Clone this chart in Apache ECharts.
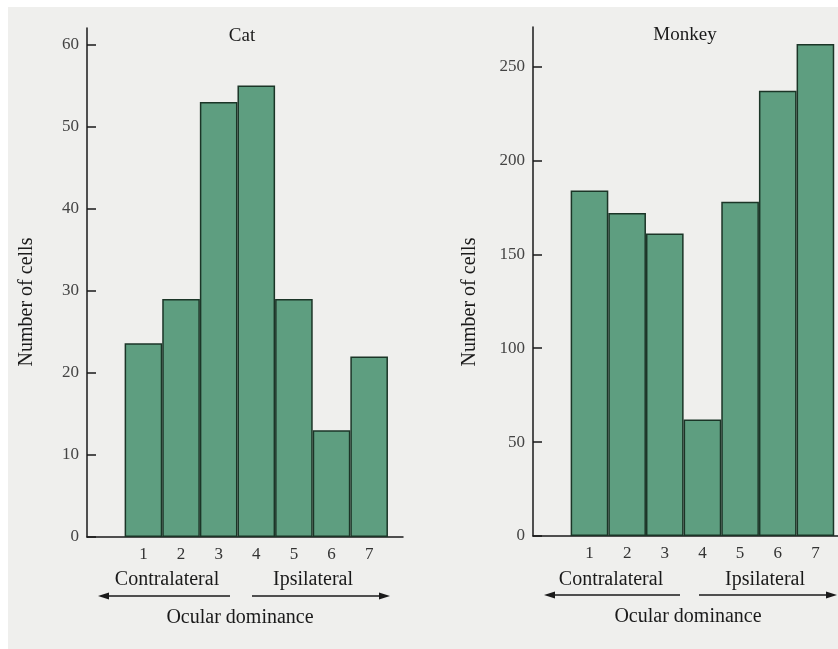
<!DOCTYPE html>
<html>
<head>
<meta charset="utf-8">
<script src="https://cdn.jsdelivr.net/npm/echarts@6/dist/echarts.min.js"></script>
<style>html,body{margin:0;padding:0;background:#fff}#c{width:838px;height:649px}</style>
</head>
<body>
<div id="c"></div>
<script>
const categories = [1, 2, 3, 4, 5, 6, 7];
const catValues = [23.6, 29, 53, 55, 29, 13, 22];
const monkeyValues = [184, 172, 161, 62, 178, 237, 262];
const catTicks = [0, 10, 20, 30, 40, 50, 60];
const monkeyTicks = [0, 50, 100, 150, 200, 250];

const FONT = '"Liberation Serif", "DejaVu Serif", serif';
const BAR = '#5e9e80';
const EDGE = '#1b3527';
const INK = '#1a1a1a';

const chart = echarts.init(document.getElementById('c'));

function xAxis(gridIndex, max) {
  return {
    type: 'value', gridIndex, min: -0.5, max,
    splitLine: {show: false},
    axisTick: {show: false},
    axisLine: {onZero: false, lineStyle: {color: INK, width: 1.5}},
    axisLabel: {customValues: categories, margin: 9, fontFamily: FONT, fontSize: 17, color: '#333'}
  };
}
function yAxis(gridIndex, max, ticks) {
  return {
    type: 'value', gridIndex, min: 0, max,
    splitLine: {show: false},
    axisLine: {show: true, onZero: false, lineStyle: {color: INK, width: 1.5}},
    axisTick: {show: true, inside: true, length: 9, customValues: ticks, lineStyle: {color: INK, width: 1.5}},
    axisLabel: {customValues: ticks, margin: 8, fontFamily: FONT, fontSize: 17, color: '#444'}
  };
}
function barSeries(idx, vals) {
  return {
    type: 'bar', xAxisIndex: idx, yAxisIndex: idx,
    data: categories.map((c, i) => [c, vals[i]]),
    barWidth: '100%',
    itemStyle: {color: BAR, borderColor: EDGE, borderWidth: 1.5},
    silent: true
  };
}
function txt(x, y, s, size, rot) {
  return {type: 'text', x, y, rotation: rot || 0,
    style: {text: s, fontFamily: FONT, fontSize: size || 20, fill: INK, align: 'center', verticalAlign: 'middle'}};
}
function arrow(x1, x2, y) {
  const dir = x2 < x1 ? 1 : -1;
  return [
    {type: 'line', shape: {x1, y1: y, x2: x2 + dir * 6, y2: y}, style: {stroke: INK, lineWidth: 1.6}},
    {type: 'polygon', shape: {points: [[x2, y], [x2 + dir * 11, y - 3.5], [x2 + dir * 11, y + 3.5]]}, style: {fill: INK}}
  ];
}

chart.setOption({
  backgroundColor: '#ffffff',
  animation: false,
  grid: [
    {left: 87, top: 28, width: 316, height: 509},
    {left: 533, top: 27, width: 305, height: 509}
  ],
  xAxis: [xAxis(0, 7.9), xAxis(1, 7.6)],
  yAxis: [yAxis(0, 62, catTicks), yAxis(1, 271, monkeyTicks)],
  series: [barSeries(0, catValues), barSeries(1, monkeyValues)],
  graphic: [
    {type: 'rect', z: -10, silent: true, shape: {x: 8, y: 7, width: 830, height: 642}, style: {fill: '#efefed'}},
    txt(242, 36, 'Cat', 19),
    txt(685, 35, 'Monkey', 19),
    txt(27, 302, 'Number of cells', 20, Math.PI / 2),
    txt(470, 302, 'Number of cells', 20, Math.PI / 2),
    txt(167, 580, 'Contralateral'),
    txt(313, 580, 'Ipsilateral'),
    txt(240, 618, 'Ocular dominance'),
    txt(611, 580, 'Contralateral'),
    txt(765, 580, 'Ipsilateral'),
    txt(688, 617, 'Ocular dominance'),
    ...arrow(230, 98, 596),
    ...arrow(252, 390, 596),
    ...arrow(680, 544, 595),
    ...arrow(699, 837, 595)
  ]
});
</script>
</body>
</html>
